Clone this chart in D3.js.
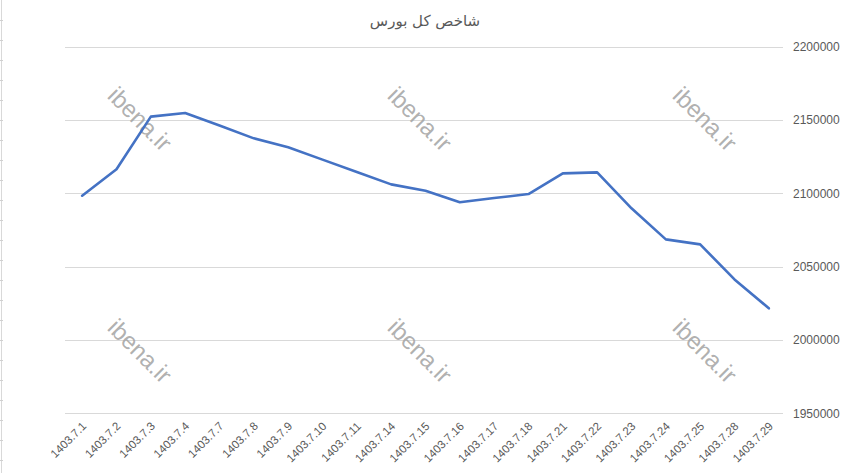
<!DOCTYPE html>
<html>
<head>
<meta charset="utf-8">
<script src="https://cdn.jsdelivr.net/npm/d3@7"></script>
<style>
  body { margin: 0; background: #fff; }
  svg { display: block; }
</style>
</head>
<body>
<div id="chart"></div>
<script>
const width = 847;
const height = 473;

const titleText = "شاخص کل بورس";

// trading days (Persian calendar)
const dates = ["1403.7.1", "1403.7.2", "1403.7.3", "1403.7.4", "1403.7.7", "1403.7.8", "1403.7.9",
    "1403.7.10", "1403.7.11", "1403.7.14", "1403.7.15", "1403.7.16", "1403.7.17", "1403.7.18",
    "1403.7.21", "1403.7.22", "1403.7.23", "1403.7.24", "1403.7.25", "1403.7.28", "1403.7.29"];

const indexValues = [2098400, 2116400, 2152300, 2154800, 2146300, 2137500, 2131400,
    2123000, 2114500, 2106100, 2101800, 2093900, 2096800, 2099500,
    2113600, 2114300, 2089800, 2068600, 2065200, 2041300, 2021600];

const yTicks = [1950000, 2000000, 2050000, 2100000, 2150000, 2200000];

const watermarkSpots = [[140, 119], [420, 119], [705, 119], [140, 351], [420, 351], [705, 351]];

const svg = d3.select("#chart").append("svg")
    .attr("width", width)
    .attr("height", height);

// faint spreadsheet edge on the left
svg.append("line")
    .attr("x1", 1.5).attr("x2", 1.5)
    .attr("y1", 0).attr("y2", height)
    .attr("stroke", "#d9d9d9");
svg.append("g")
    .selectAll("line")
    .data(d3.range(20, height, 20))
    .join("line")
    .attr("x1", 0).attr("x2", 3)
    .attr("y1", d => d + 0.5).attr("y2", d => d + 0.5)
    .attr("stroke", "#d0d0d0");

const xScale = d3.scaleBand()
    .domain(dates)
    .range([65, 786]);

const yScale = d3.scaleLinear()
    .domain([1950000, 2200000])
    .range([413.3, 46.7]);

// gridlines
svg.append("g")
    .selectAll("line")
    .data(yTicks)
    .join("line")
    .attr("x1", 65)
    .attr("x2", 783)
    .attr("y1", d => Math.round(yScale(d)) + 0.5)
    .attr("y2", d => Math.round(yScale(d)) + 0.5)
    .attr("stroke", "#d9d9d9")
    .attr("stroke-width", 1);

// right y-axis labels
const yAxis = d3.axisRight(yScale)
    .tickValues(yTicks)
    .tickFormat(d3.format("d"))
    .tickSize(0)
    .tickPadding(0);

svg.append("g")
    .attr("transform", "translate(793,0)")
    .call(yAxis)
    .call(g => g.select(".domain").remove())
    .selectAll("text")
    .attr("font-family", "Liberation Sans, Arial, sans-serif")
    .attr("font-size", "12px")
    .attr("fill", "#595959");

// bottom x-axis labels, rotated
const xAxis = d3.axisBottom(xScale)
    .tickSize(0)
    .tickPadding(0);

svg.append("g")
    .attr("transform", "translate(0,420)")
    .call(xAxis)
    .call(g => g.select(".domain").remove())
    .selectAll("text")
    .attr("font-family", "Liberation Sans, Arial, sans-serif")
    .attr("font-size", "11.5px")
    .attr("fill", "#595959")
    .attr("text-anchor", "end")
    .attr("dy", "0.35em")
    .attr("transform", "translate(2,4) rotate(-45)");

// watermarks
svg.append("g")
    .selectAll("text")
    .data(watermarkSpots)
    .join("text")
    .attr("transform", d => `translate(${d[0]},${d[1]}) rotate(45)`)
    .attr("text-anchor", "middle")
    .attr("dy", "0.35em")
    .attr("font-family", "Liberation Sans, Arial, sans-serif")
    .attr("font-size", "24px")
    .attr("fill", "#a6a6a6")
    .attr("fill-opacity", 0.9)
    .text("ibena.ir");

// index line
const line = d3.line()
    .x((d, i) => xScale(dates[i]) + xScale.bandwidth() / 2)
    .y(d => yScale(d));

svg.append("path")
    .datum(indexValues)
    .attr("fill", "none")
    .attr("stroke", "#4472C4")
    .attr("stroke-width", 2.6)
    .attr("stroke-linejoin", "round")
    .attr("stroke-linecap", "round")
    .attr("d", line);

// title
svg.append("text")
    .attr("x", 425)
    .attr("y", 26)
    .attr("text-anchor", "middle")
    .attr("font-family", "DejaVu Sans, sans-serif")
    .attr("font-size", "15px")
    .attr("fill", "#595959")
    .text(titleText);
</script>
</body>
</html>
